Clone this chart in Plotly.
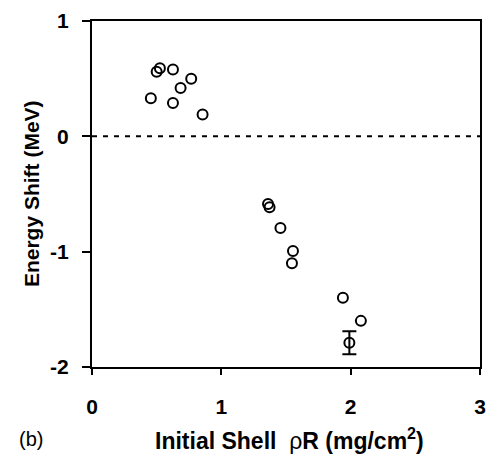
import plotly.graph_objects as go

rho_r = [0.455, 0.50, 0.525, 0.626, 0.626, 0.685, 0.767, 0.855,
         1.361, 1.373, 1.457, 1.554, 1.546, 1.94, 2.079]
shift = [0.33, 0.56, 0.59, 0.58, 0.29, 0.42, 0.50, 0.19,
         -0.587, -0.615, -0.795, -0.994, -1.10, -1.40, -1.60]

err_x = [1.99]
err_y = [-1.79]
err_val = [0.1]

x_ticks = [0, 1, 2, 3]
x_labels = ["0", "1", "2", "3"]
y_ticks = [-2, -1, 0, 1]
y_labels = ["-2", "-1", "0", "1"]

FONT = "Liberation Sans"

fig = go.Figure()
fig.add_trace(go.Scatter(
    x=rho_r, y=shift, mode="markers",
    marker=dict(symbol="circle-open", size=10, color="black", line=dict(width=2, color="black")),
    showlegend=False))
fig.add_trace(go.Scatter(
    x=err_x, y=err_y, mode="markers",
    marker=dict(symbol="circle-open", size=10, color="black", line=dict(width=2, color="black")),
    error_y=dict(type="data", array=err_val, visible=True, color="black", thickness=2, width=7),
    showlegend=False))

fig.add_shape(type="line", xref="x", yref="y", x0=0, x1=3, y0=0, y1=0,
              line=dict(color="black", width=2, dash="5px,6px"))

fig.update_xaxes(range=[0, 3], tickvals=x_ticks, ticktext=["<b>%s</b>" % t for t in x_labels],
                 showgrid=False, zeroline=False,
                 showline=True, linecolor="black", linewidth=2, mirror=True,
                 ticks="outside", ticklen=6, tickwidth=2, tickcolor="black",
                 ticklabelstandoff=14,
                 tickfont=dict(family=FONT, size=21, color="black"))
fig.update_yaxes(range=[-2, 1], tickvals=y_ticks, ticktext=["<b>%s</b>" % t for t in y_labels],
                 showgrid=False, zeroline=False,
                 showline=True, linecolor="black", linewidth=2, mirror=True,
                 ticks="outside", ticklen=8, tickwidth=2, tickcolor="black",
                 ticklabelstandoff=9,
                 tickfont=dict(family=FONT, size=21, color="black"))

fig.add_annotation(xref="paper", yref="paper", x=-0.157, y=0.5, textangle=-90,
                   xanchor="center", yanchor="middle",
                   text="<b>Energy Shift (MeV)</b>", showarrow=False,
                   font=dict(family=FONT, size=21, color="black"))
fig.add_annotation(xref="paper", yref="paper", x=0.51, y=-0.208,
                   xanchor="center", yanchor="middle",
                   text="<b>Initial Shell</b>  ρ<b>R (mg/cm<sup>2</sup>)</b>", showarrow=False,
                   font=dict(family=FONT, size=23, color="black"))
fig.add_annotation(xref="paper", yref="paper", x=-0.193, y=-0.208,
                   xanchor="left", yanchor="middle",
                   text="(b)", showarrow=False,
                   font=dict(family=FONT, size=20, color="black"))

fig.update_layout(width=495, height=462, margin=dict(l=92, r=9, t=16, b=95),
                  plot_bgcolor="white", paper_bgcolor="white")

fig.write_html("out.html")
